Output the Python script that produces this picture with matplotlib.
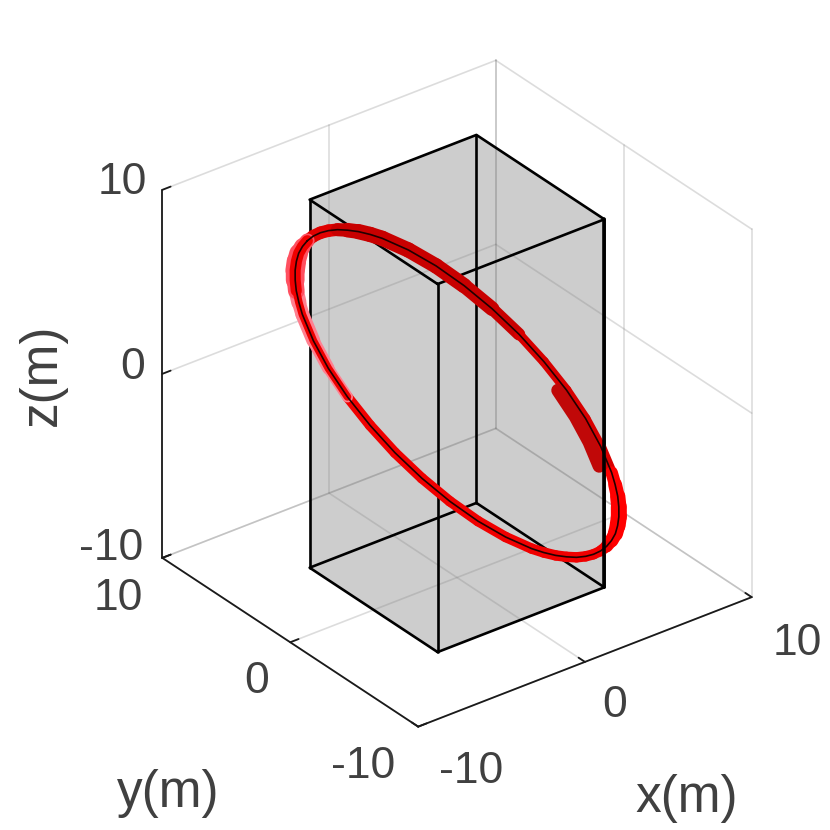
import matplotlib
matplotlib.use('Agg')
import matplotlib.pyplot as plt
from mpl_toolkits.mplot3d.art3d import Poly3DCollection

plt.rcParams['font.family'] = ['Liberation Sans', 'DejaVu Sans']

# ── 数据 ──────────────────────────────────────────────
ticks = [-10, 0, 10]
lim = 10

# 长方体范围
box_x = [-5, 5]
box_y = [-5, 5]
box_z = [-10, 10]

# 圆环轨迹
ring_x = [-3.35, -2.84, -2.30, -1.76, -1.19, -0.62, -0.04, 0.55, 1.12, 2.24, 3.29, 4.24, 5.06,
          5.73, 6.22, 6.53, 6.64, 6.54, 6.25, 6.03, 5.77, 5.46, 5.11, 4.72, 4.30, 3.84,
          3.35, 2.84, 2.30, 1.76, 1.19, 0.62, 0.04, -0.55, -1.12, -2.24, -3.29, -4.24, -5.06,
          -5.73, -6.22, -6.53, -6.64, -6.54, -6.25, -6.03, -5.77, -5.46, -5.11, -4.72, -4.30, -3.84, -3.35]
ring_y = [7.33, 7.53, 7.67, 7.76, 7.79, 7.75, 7.66, 7.50, 7.30, 6.72, 5.93, 4.97, 3.85,
          2.62, 1.31, -0.05, -1.40, -2.70, -3.94, -4.50, -5.04, -5.53, -5.99, -6.40, -6.77, -7.07,
          -7.33, -7.53, -7.67, -7.76, -7.79, -7.75, -7.66, -7.50, -7.30, -6.72, -5.93, -4.97, -3.85,
          -2.62, -1.31, 0.05, 1.40, 2.70, 3.94, 4.50, 5.04, 5.53, 5.99, 6.40, 6.77, 7.07, 7.33]
ring_z = [6.12, 6.10, 6.03, 5.91, 5.75, 5.54, 5.30, 5.01, 4.69, 3.93, 3.06, 2.09, 1.06,
          0.00, -1.06, -2.09, -3.06, -3.93, -4.69, -5.01, -5.30, -5.54, -5.75, -5.91, -6.03, -6.10,
          -6.12, -6.10, -6.03, -5.91, -5.75, -5.54, -5.30, -5.01, -4.69, -3.93, -3.06, -2.09, -1.06,
          0.00, 1.06, 2.09, 3.06, 3.93, 4.69, 5.01, 5.30, 5.54, 5.75, 5.91, 6.03, 6.10, 6.12]

# 右侧内圈的深红色带
band_x = [6.01, 6.11, 6.02, 5.75]
band_y = [-0.05, -1.29, -2.48, -3.62]
band_z = [-1.92, -2.82, -3.62, -4.31]

# 文字（x, y 为像素位置）
tick_labels = [
    ("10", 122, 183), ("0", 133, 367), ("-10", 111, 548),
    ("10", 118, 598), ("0", 257, 681), ("-10", 363, 766),
    ("-10", 471, 771), ("0", 615, 705), ("10", 797, 643),
]

# 圆环外层每段的线宽和颜色
outer_width = [9, 9, 9, 9, 9.5, 10.5, 11, 11, 11, 11, 11, 10.5, 9,
               7, 7, 7, 7, 7.5, 9, 10, 11, 11.5, 11.5, 11, 10, 9,
               8, 7.5, 7.5, 7.5, 7.5, 7.5, 7.5, 7.5, 7.5, 7.5, 7.5, 7.5, 7.5, 7.5, 7.5,
               8, 9, 10, 10, 11, 12, 13.5, 14, 13.5, 12, 10.5]
outer_color = (['#e00000'] * 4 + ['#c80000'] * 9 + ['#d80000'] * 5 + ['#ff0000'] * 8
               + ['#f00000'] * 15 + ['#ff8090'] * 5 + ['#ff5060'] * 6)

W = H = 830
fig = plt.figure(figsize=(8.3, 8.3), dpi=100)
ax = fig.add_axes([77 / W, 56.5 / H, 740 / W, 740 / H], projection='3d',
                  proj_type='ortho', computed_zorder=False)
ax.view_init(elev=30.4, azim=-127.5)
ax.set_xlim(-lim, lim, view_margin=0)
ax.set_ylim(-lim, lim, view_margin=0)
ax.set_zlim(-lim, lim, view_margin=0)
ax.set_box_aspect((1, 1, 1.015), zoom=0.96)
ax.set_axis_off()


def line3(xs, ys, zs, **kw):
    ax.plot(xs, ys, zs, solid_capstyle='round', solid_joinstyle='round', **kw)


# 灰色长方体（轮廓填充）
x0, x1 = box_x
y0, y1 = box_y
z0, z1 = box_z
sil = [(x0, y1, z1), (x1, y1, z1), (x1, y0, z1), (x1, y0, z0), (x0, y0, z0), (x0, y1, z0)]
ax.add_collection3d(Poly3DCollection([sil], facecolor='#cdcdcd', edgecolor='none', zorder=1))

# 网格
grid_kw = dict(color='#808080', alpha=0.27, lw=1.2, zorder=2)
for t in ticks:
    line3([t, t], [lim, lim], [-lim, lim], **grid_kw)
    line3([lim, lim], [t, t], [-lim, lim], **grid_kw)
    line3([-lim, lim], [lim, lim], [t, t], **grid_kw)
    line3([lim, lim], [-lim, lim], [t, t], **grid_kw)
    line3([t, t], [-lim, lim], [-lim, -lim], **grid_kw)
    line3([-lim, lim], [t, t], [-lim, -lim], **grid_kw)

# 坐标轴
axis_kw = dict(color='#1a1a1a', lw=1.3, zorder=3)
line3([-lim, lim], [-lim, -lim], [-lim, -lim], **axis_kw)
line3([-lim, -lim], [-lim, lim], [-lim, -lim], **axis_kw)
line3([-lim, -lim], [lim, lim], [-lim, lim], **axis_kw)
tk = 0.5
for t in ticks:
    line3([t, t], [-lim, -lim + tk], [-lim, -lim], **axis_kw)
    line3([-lim, -lim + tk], [t, t], [-lim, -lim], **axis_kw)
    line3([-lim, -lim + tk], [lim, lim], [t, t], **axis_kw)

# 长方体边线
edge_kw = dict(color='black', lw=1.9, zorder=4)
for a, b in [(x0, y0), (x1, y0), (x1, y1), (x0, y1)]:
    line3([a, a], [b, b], [z0, z1], **edge_kw)
for z in (z0, z1):
    line3([x0, x1, x1, x0, x0], [y0, y0, y1, y1, y0], [z, z, z, z, z], **edge_kw)

# 圆环外层，逐段画，线宽才能渐变
for i, (w, c) in enumerate(zip(outer_width, outer_color)):
    line3(ring_x[i:i + 2], ring_y[i:i + 2], ring_z[i:i + 2], color=c, lw=w, zorder=5)
line3(band_x, band_y, band_z, color='#c00808', lw=9.5, zorder=5)

# 左侧亮红内层
line3(ring_x[41:53], ring_y[41:53], ring_z[41:53], color='#ee0000', lw=5.5, zorder=5)
line3(ring_x[46:53], ring_y[46:53], ring_z[46:53], color='#f00000', lw=8.0, zorder=5)

line3(ring_x, ring_y, ring_z, color='#200000', lw=1.2, zorder=6)

# 最右侧竖线压在圆环上面
line3([x1, x1], [y0, y0], [z0, z1], color='black', lw=2.6, zorder=7)

for s, px, py in tick_labels:
    fig.text(px / W, 1 - py / H, s, fontsize=32, color='#404040', ha='center', va='center')
fig.text(168 / W, 1 - 793 / H, 'y(m)', fontsize=37, color='#404040', ha='center', va='center')
fig.text(687 / W, 1 - 798 / H, 'x(m)', fontsize=37, color='#404040', ha='center', va='center')
fig.text(42 / W, 1 - 375 / H, 'z(m)', fontsize=37, color='#404040', ha='center', va='center', rotation=90)

fig.savefig('out.png', dpi=100)
